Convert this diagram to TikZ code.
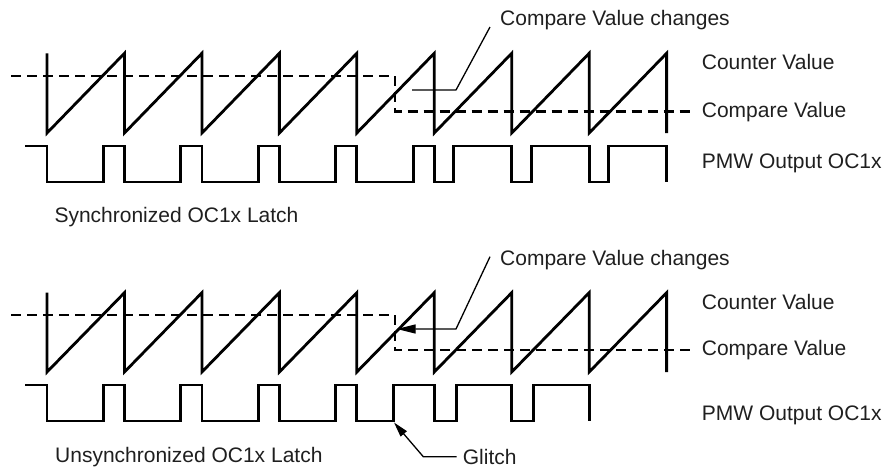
\documentclass[tikz,border=0pt]{standalone}
\usepackage{fontspec}
\setmainfont{Liberation Sans}
\usetikzlibrary{arrows.meta}
\begin{document}
\begin{tikzpicture}[x=1pt,y=-1pt,
  wave/.style={line width=2.8pt,line join=miter,line cap=butt},
  cmpline/.style={line width=2.2pt,dash pattern=on 10pt off 6pt},
  lead/.style={line width=1.3pt},
  lbl/.style={anchor=west,inner sep=0pt,font=\fontsize{21}{25}\selectfont,text=black!88}]
\useasboundingbox (0,0) rectangle (886,467);
\def\P{77.45}
% ---------------- top: synchronized ----------------
\draw[wave] (47,53.3) \foreach \k in {1,...,8} { -- ({47+\P*(\k-1)},133) -- ({47+\P*\k},53.3) } -- ({47+\P*8},133);
\draw[cmpline] (11,76) -- (395,76) -- (395,111.5) -- (690,111.5);
\draw[wave] (25,146) \foreach \k in {0,...,4} { -- ({47+\P*\k},146) -- ({47+\P*\k},182) -- ({47+\P*\k+56.4},182) -- ({47+\P*\k+56.4},146) }
  \foreach \k in {5,6,7} { -- ({47+\P*\k},146) -- ({47+\P*\k},182) -- ({47+\P*\k+19.5},182) -- ({47+\P*\k+19.5},146) }
  -- ({47+\P*8},146) -- ({47+\P*8},182);
\node[lbl] (cvcA) at (500,20) {Compare Value changes};
\coordinate (hA1) at (412,90);
\coordinate (hA2) at (456,90);
\coordinate (hA3) at (490,27);
\draw[lead] (hA1) -- (hA2) -- (hA3);
\node[lbl] (cntA) at (701.7,61.7) {Counter Value};
\node[lbl] (cmpA) at (701.7,111.7) {Compare Value};
\node[lbl] (pwmA) at (701.7,163) {PMW Output OC1x};
\node[lbl] (syn) at (54.3,216.7) {Synchronized OC1x Latch};
% ---------------- bottom: unsynchronized ----------------
\draw[wave] (47,292.7) \foreach \k in {1,...,8} { -- ({47+\P*(\k-1)},372) -- ({47+\P*\k},292.7) } -- ({47+\P*8},372);
\draw[cmpline] (11,315) -- (395,315) -- (395,350) -- (690,350);
\draw[wave] (25,385) \foreach \k in {0,...,3} { -- ({47+\P*\k},385) -- ({47+\P*\k},421) -- ({47+\P*\k+56.4},421) -- ({47+\P*\k+56.4},385) }
  -- ({47+\P*4},385) -- ({47+\P*4},421) -- (393.3,421) -- (393.3,385)
  \foreach \k in {5,6} { -- ({47+\P*\k},385) -- ({47+\P*\k},421) -- ({47+\P*\k+22},421) -- ({47+\P*\k+22},385) }
  -- ({47+\P*7},385) -- ({47+\P*7},421);
\node[lbl] (cvcB) at (500,260) {Compare Value changes};
\coordinate (hB1) at (396.7,329);
\coordinate (hB2) at (456,329);
\coordinate (hB3) at (490,256.7);
\draw[lead,-{Triangle[length=19pt,width=9pt]}] (hB3) -- (hB2) -- (hB1);
\node[lbl] (cntB) at (701.7,301.7) {Counter Value};
\node[lbl] (cmpB) at (701.7,350) {Compare Value};
\node[lbl] (pwmB) at (701.7,415) {PMW Output OC1x};
\node[lbl] (uns) at (55,456.7) {Unsynchronized OC1x Latch};
\node[lbl] (gl) at (462.7,456.7) {Glitch};
\coordinate (gS) at ([xshift=-6pt]gl.west);
\coordinate (gT) at (394,422.5);
\coordinate (gM) at (423.3,456.7);
\draw[lead,-{Triangle[length=15pt,width=8pt]}] (gS) -- (gM) -- (gT);
\end{tikzpicture}
\end{document}
